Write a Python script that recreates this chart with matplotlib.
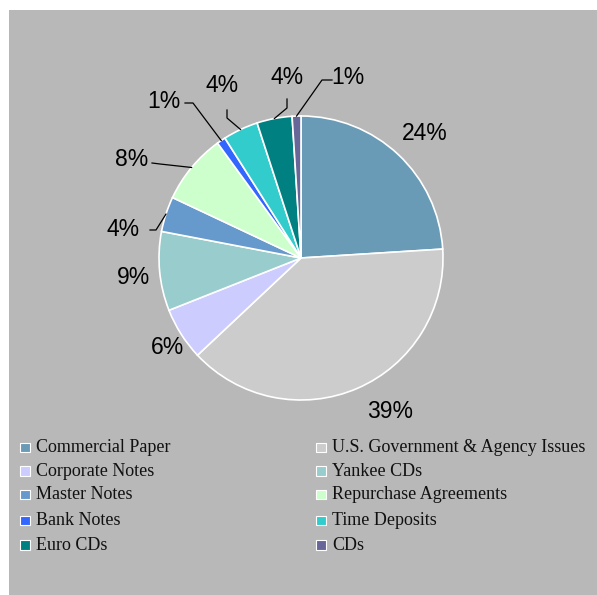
import matplotlib.pyplot as plt
from matplotlib.patches import Rectangle
import numpy as np

W, H = 597, 595

categories = ["Commercial Paper", "U.S. Government & Agency Issues", "Corporate Notes",
              "Yankee CDs", "Master Notes", "Repurchase Agreements", "Bank Notes",
              "Time Deposits", "Euro CDs", "CDs"]
shares = [24, 39, 6, 9, 4, 8, 1, 4, 4, 1]
colors = ["#6A9BB6", "#CCCCCC", "#CCCCFF", "#99CCCC", "#6699CC",
          "#CCFFCC", "#3366FF", "#33CCCC", "#008080", "#666699"]

# pie placement in pixel units (y measured from top)
CX, CY, R = 301, 258, 142
BG = "#B8B8B8"

# label layout: text centre, plus optional leader (elbow, end) in pixels
label_pos = [(425, 133), (390, 411), (168, 347), (134, 277), (123, 229),
             (132, 160), (164, 101), (222, 86), (287, 78), (348, 78)]
leaders = {4: ((156, 230), (150, 230)),
           5: ((160, 164), (152, 163)),
           6: ((193, 103), (185, 103)),
           7: ((227, 118), (227, 110)),
           8: ((287, 108), (287, 99)),
           9: ((322, 80), (332, 80))}


def px(x, y):
    return x, H - y


fig = plt.figure(figsize=(W / 100, H / 100), dpi=100)
fig.patch.set_facecolor("white")
fig.patches.append(Rectangle((9 / W, 0), 1 - 9 / W, 1 - 10 / H,
                             transform=fig.transFigure, facecolor=BG,
                             edgecolor="none", zorder=-5))

ax = fig.add_axes([0, 0, 1, 1])
ax.patch.set_alpha(0)

wedges, _ = ax.pie(shares, colors=colors, startangle=90, counterclock=False,
                   center=px(CX, CY), radius=R, frame=True,
                   wedgeprops=dict(edgecolor="white", linewidth=1.2))
ax.set_xlim(0, W)
ax.set_ylim(0, H)
ax.set_aspect("equal")
ax.axis("off")

total = sum(shares)
cum = np.cumsum([0] + shares)
for i, v in enumerate(shares):
    mid = np.deg2rad(90 - 360 * (cum[i] + v / 2) / total)
    tx, ty = px(*label_pos[i])
    ax.text(tx, ty, f"{v}%", fontsize=16.5, family="Liberation Sans",
            ha="center", va="center", color="black")
    if i in leaders:
        ex, ey = CX + R * np.cos(mid), CY - R * np.sin(mid)
        (bx, by), (lx, ly) = leaders[i]
        pts = [px(ex, ey), px(bx, by), px(lx, ly)]
        ax.plot([p[0] for p in pts], [p[1] for p in pts], color="black", lw=0.9)

# two-column legend, row-major order
row_y = [447.5, 471, 494.5, 520.5, 545]
col_x = [20, 316]
for i, (name, c) in enumerate(zip(categories, colors)):
    col, row = i % 2, i // 2
    x0, yc = col_x[col], row_y[row]
    sx, sy = px(x0, yc + 4.5)
    ax.add_patch(Rectangle((sx, sy), 9.5, 9.5, facecolor=c,
                           edgecolor="white", linewidth=0.8))
    tx, ty = px(x0 + 16, yc)
    ax.text(tx, ty, name, fontsize=13, family="Liberation Serif",
            ha="left", va="center", color="#111111")

fig.savefig("out.png", dpi=100, facecolor=fig.get_facecolor())
